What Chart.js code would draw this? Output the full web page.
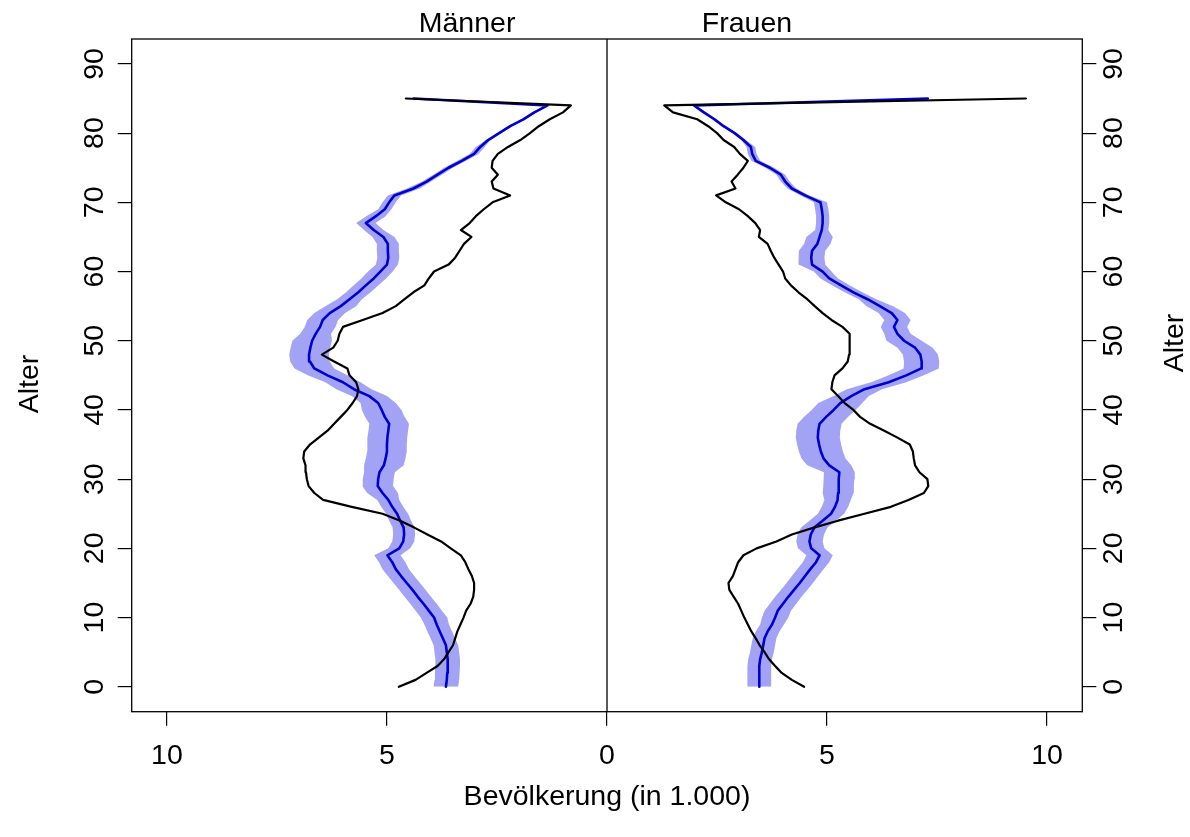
<!DOCTYPE html>
<html>
<head>
<meta charset="utf-8">
<script src="https://cdn.jsdelivr.net/npm/chart.js@4.4.1/dist/chart.umd.min.js"></script>
<style>
html,body{margin:0;padding:0;background:#ffffff;}
#wrap{width:1190px;height:837px;}
</style>
</head>
<body>
<div id="wrap"><canvas id="c" width="1190" height="837"></canvas></div>
<script>
// ---------- DATA ----------
const ages = [0,1,2,3,4,5,6,7,8,9,10,11,12,13,14,15,16,17,18,19,20,21,22,23,24,25,26,27,28,29,
  30,31,32,33,34,35,36,37,38,39,40,41,42,43,44,45,46,47,48,49,50,51,52,53,54,55,56,57,58,59,
  60,61,62,63,64,65,66,67,68,69,70,71,72,73,74,75,76,77,78,79,80,81,82,83,84,85];

const xTicks = [-10, -5, 0, 5, 10];
const yTicks = [0, 10, 20, 30, 40, 50, 60, 70, 80, 90];
const panelLabels = ['Männer', 'Frauen'];
const xTitle = 'Bevölkerung (in 1.000)';
const yTitle = 'Alter';

// Männer – beobachtet (schwarz)
const menObserved = [
  4.73,4.35,4.10,3.85,3.70,3.60,3.50,3.45,3.40,3.33,
  3.26,3.20,3.10,3.04,3.02,3.02,3.07,3.15,3.22,3.32,
  3.55,3.77,4.08,4.38,4.70,5.10,5.80,6.45,6.65,6.78,
  6.82,6.84,6.85,6.90,6.88,6.75,6.55,6.35,6.20,6.05,
  5.90,5.78,5.68,5.65,5.70,5.85,5.90,6.20,6.48,6.22,
  6.12,6.08,6.00,5.55,5.10,4.80,4.60,4.40,4.15,4.05,
  3.93,3.60,3.45,3.35,3.25,3.08,3.32,3.12,2.98,2.80,
  2.60,2.20,2.58,2.62,2.48,2.62,2.60,2.48,2.25,1.97,
  1.75,1.55,1.30,1.00,0.82,4.57];
// Männer – Schätzung (blau)
const menEstimate = [
  3.66,3.64,3.63,3.62,3.62,3.64,3.66,3.73,3.80,3.87,
  3.93,4.05,4.17,4.30,4.42,4.55,4.68,4.80,4.88,4.99,
  4.72,4.63,4.61,4.62,4.70,4.77,4.88,4.97,5.10,5.21,
  5.20,5.17,5.07,5.03,5.00,5.00,4.99,4.97,4.95,5.05,
  5.12,5.20,5.40,5.75,6.00,6.35,6.65,6.75,6.77,6.74,
  6.70,6.62,6.52,6.46,6.30,6.05,5.85,5.65,5.48,5.30,
  5.15,5.00,4.97,4.98,4.98,5.08,5.30,5.48,5.25,5.05,
  4.95,4.83,4.40,4.10,3.85,3.60,3.30,3.02,2.88,2.70,
  2.45,2.20,1.90,1.65,1.35,4.39];
const menLower = [
  3.38,3.36,3.35,3.34,3.34,3.36,3.38,3.45,3.52,3.59,
  3.63,3.75,3.87,4.00,4.12,4.25,4.38,4.50,4.58,4.69,
  4.47,4.38,4.36,4.37,4.45,4.52,4.63,4.72,4.75,4.86,
  4.85,4.82,4.62,4.58,4.55,4.55,4.54,4.52,4.50,4.60,
  4.67,4.80,5.00,5.35,5.60,5.90,6.20,6.30,6.32,6.29,
  6.25,6.27,6.17,6.11,5.95,5.70,5.57,5.37,5.20,5.02,
  4.87,4.75,4.72,4.73,4.73,4.83,5.08,5.26,5.03,4.90,
  4.80,4.68,4.25,4.00,3.75,3.50,3.20,2.92,2.78,2.65,
  2.40,2.15,1.85,1.60,1.30,4.34];
const menUpper = [
  3.94,3.92,3.91,3.90,3.90,3.92,3.94,4.01,4.08,4.15,
  4.23,4.35,4.47,4.60,4.72,4.85,4.98,5.10,5.18,5.29,
  4.97,4.88,4.86,4.87,4.95,5.02,5.13,5.22,5.45,5.56,
  5.55,5.52,5.52,5.48,5.45,5.45,5.44,5.42,5.40,5.50,
  5.57,5.60,5.80,6.15,6.40,6.80,7.10,7.20,7.22,7.19,
  7.15,6.97,6.87,6.81,6.65,6.40,6.13,5.93,5.76,5.58,
  5.43,5.25,5.22,5.23,5.23,5.33,5.52,5.70,5.47,5.20,
  5.10,4.98,4.55,4.20,3.95,3.70,3.40,3.12,2.98,2.75,
  2.50,2.25,1.95,1.70,1.40,4.44];

// Frauen – beobachtet (schwarz)
const womenObserved = [
  4.48,4.20,3.97,3.82,3.68,3.58,3.47,3.38,3.28,3.20,
  3.12,3.05,2.98,2.88,2.78,2.76,2.86,2.92,2.98,3.10,
  3.40,3.85,4.20,4.70,5.25,5.85,6.45,6.85,7.20,7.30,
  7.28,7.10,7.00,6.97,6.95,6.88,6.60,6.30,5.98,5.75,
  5.60,5.40,5.25,5.10,5.12,5.17,5.35,5.47,5.50,5.52,
  5.52,5.50,5.35,5.10,4.90,4.72,4.55,4.35,4.18,4.05,
  4.00,3.90,3.80,3.72,3.65,3.45,3.48,3.37,3.20,3.00,
  2.70,2.48,2.92,2.83,2.97,3.10,3.20,3.02,2.89,2.65,
  2.50,2.30,2.05,1.50,1.30,9.52];
// Frauen – Schätzung (blau)
const womenEstimate = [
  3.46,3.46,3.46,3.46,3.48,3.52,3.55,3.58,3.65,3.75,
  3.82,3.88,4.00,4.12,4.25,4.38,4.50,4.62,4.75,4.83,
  4.64,4.60,4.63,4.71,4.90,5.09,5.18,5.24,5.25,5.26,
  5.27,5.28,5.05,4.92,4.86,4.82,4.79,4.80,4.83,4.98,
  5.15,5.30,5.55,5.85,6.40,6.80,7.14,7.15,7.12,7.00,
  6.75,6.60,6.52,6.60,6.47,6.20,5.92,5.60,5.32,5.05,
  4.90,4.66,4.64,4.66,4.78,4.83,4.88,4.90,4.90,4.88,
  4.85,4.50,4.20,4.05,3.95,3.70,3.38,3.30,3.27,3.10,
  2.90,2.65,2.44,2.20,1.98,7.29];
const womenLower = [
  3.19,3.19,3.19,3.19,3.21,3.25,3.28,3.31,3.38,3.48,
  3.52,3.58,3.70,3.82,3.95,4.08,4.20,4.32,4.45,4.53,
  4.34,4.30,4.33,4.41,4.60,4.79,4.88,4.94,4.90,4.91,
  4.92,4.93,4.55,4.42,4.36,4.32,4.29,4.30,4.33,4.48,
  4.65,4.80,5.15,5.45,6.00,6.40,6.74,6.75,6.72,6.60,
  6.35,6.30,6.22,6.30,6.17,5.90,5.72,5.40,5.12,4.85,
  4.70,4.36,4.34,4.36,4.48,4.53,4.73,4.75,4.75,4.73,
  4.70,4.40,4.10,3.95,3.85,3.60,3.28,3.20,3.17,3.05,
  2.85,2.60,2.39,2.15,1.93,7.24];
const womenUpper = [
  3.73,3.73,3.73,3.73,3.75,3.79,3.82,3.85,3.92,4.02,
  4.12,4.18,4.30,4.42,4.55,4.68,4.80,4.92,5.05,5.13,
  4.94,4.90,4.93,5.01,5.20,5.39,5.48,5.54,5.60,5.61,
  5.62,5.63,5.55,5.42,5.36,5.32,5.29,5.30,5.33,5.48,
  5.65,5.80,5.95,6.25,6.80,7.20,7.54,7.55,7.52,7.40,
  7.15,6.90,6.82,6.90,6.77,6.50,6.12,5.80,5.52,5.25,
  5.10,4.96,4.94,4.96,5.08,5.13,5.03,5.05,5.05,5.03,
  5.00,4.60,4.30,4.15,4.05,3.80,3.48,3.40,3.37,3.15,
  2.95,2.70,2.49,2.25,2.03,7.34];

// ---------- CHART ----------
const FONT = '"Liberation Sans", Arial, Helvetica, sans-serif';
const FSIZE = 28.5;
const fontSpec = { family: FONT, size: FSIZE };
const BLUE = '#0000CD';
const BAND = 'rgba(120,120,240,0.68)';

const left = arr => arr.map((v, i) => ({ x: -v, y: ages[i] }));
const right = arr => arr.map((v, i) => ({ x: v, y: ages[i] }));

const lineDs = (data, color, width, order) => ({
  data, borderColor: color, borderWidth: width, pointRadius: 0, fill: false,
  order, tension: 0, borderJoinStyle: 'round', borderCapStyle: 'round'
});
const bandLo = (data) => ({ data, borderWidth: 0, borderColor: 'rgba(0,0,0,0)', pointRadius: 0, fill: false, order: 5 });
const bandHi = (data) => ({ data, borderWidth: 0, borderColor: 'rgba(0,0,0,0)', pointRadius: 0, fill: '-1', backgroundColor: BAND, order: 5 });

const framePlugin = {
  id: 'frame',
  afterDatasetsDraw(chart) {
    const { ctx, chartArea: a, scales: { x } } = chart;
    ctx.save();
    ctx.strokeStyle = '#000';
    ctx.lineWidth = 1.3;
    ctx.strokeRect(a.left, a.top, a.right - a.left, a.bottom - a.top);
    const x0 = x.getPixelForValue(0);
    ctx.beginPath();
    ctx.moveTo(x0, a.top);
    ctx.lineTo(x0, a.bottom);
    ctx.stroke();
    ctx.fillStyle = '#000';
    ctx.font = FSIZE + 'px ' + FONT;
    ctx.textAlign = 'center';
    ctx.textBaseline = 'alphabetic';
    ctx.fillText(panelLabels[0], x.getPixelForValue(-3.18), a.top - 7);
    ctx.fillText(panelLabels[1], x.getPixelForValue(3.18), a.top - 7);
    ctx.textBaseline = 'middle';
    ctx.save(); ctx.translate(30, 384); ctx.rotate(-Math.PI / 2); ctx.fillText(yTitle, 0, 0); ctx.restore();
    ctx.save(); ctx.translate(1175, 343); ctx.rotate(-Math.PI / 2); ctx.fillText(yTitle, 0, 0); ctx.restore();
    ctx.restore();
  }
};

const yAxis = (pos, width, pad) => ({
  type: 'linear', position: pos, min: -3.6, max: 93.6, reverse: false,
  afterBuildTicks: s => { s.ticks = yTicks.map(v => ({ value: v })); },
  ticks: { font: fontSpec, color: '#000', padding: pad, minRotation: 90, maxRotation: 90, crossAlign: 'center', autoSkip: false },
  grid: { drawOnChartArea: false, drawTicks: true, tickLength: 14, color: '#000', lineWidth: 1.2 },
  border: { display: false },
  afterFit: s => { s.width = width; }
});

new Chart(document.getElementById('c'), {
  type: 'line',
  data: {
    datasets: [
      bandLo(left(menLower)), bandHi(left(menUpper)),
      bandLo(right(womenLower)), bandHi(right(womenUpper)),
      lineDs(left(menEstimate), BLUE, 2.6, 2),
      lineDs(right(womenEstimate), BLUE, 2.6, 2),
      lineDs(left(menObserved), '#000', 2.2, 1),
      lineDs(right(womenObserved), '#000', 2.2, 1)
    ]
  },
  options: {
    indexAxis: 'y',
    responsive: false,
    animation: false,
    devicePixelRatio: 1,
    layout: { padding: { top: 39, left: 0, right: 0, bottom: 0 } },
    plugins: { legend: { display: false }, tooltip: { enabled: false }, title: { display: false } },
    scales: {
      x: {
        type: 'linear', position: 'bottom', min: -10.8, max: 10.8,
        afterBuildTicks: s => { s.ticks = xTicks.map(v => ({ value: v })); },
        ticks: { font: fontSpec, color: '#000', padding: 13, maxRotation: 0, minRotation: 0, autoSkip: false,
                 callback: v => String(Math.abs(v)) },
        grid: { drawOnChartArea: false, drawTicks: true, tickLength: 14, color: '#000', lineWidth: 1.2 },
        border: { display: false },
        title: { display: true, text: xTitle, font: fontSpec, color: '#000', padding: { top: 0, bottom: 23 } },
        afterFit: s => { s.height = 125.3; }
      },
      y: yAxis('left', 131.7, 7),
      y2: yAxis('right', 107.7, 2)
    }
  },
  plugins: [framePlugin]
});
</script>
</body>
</html>
